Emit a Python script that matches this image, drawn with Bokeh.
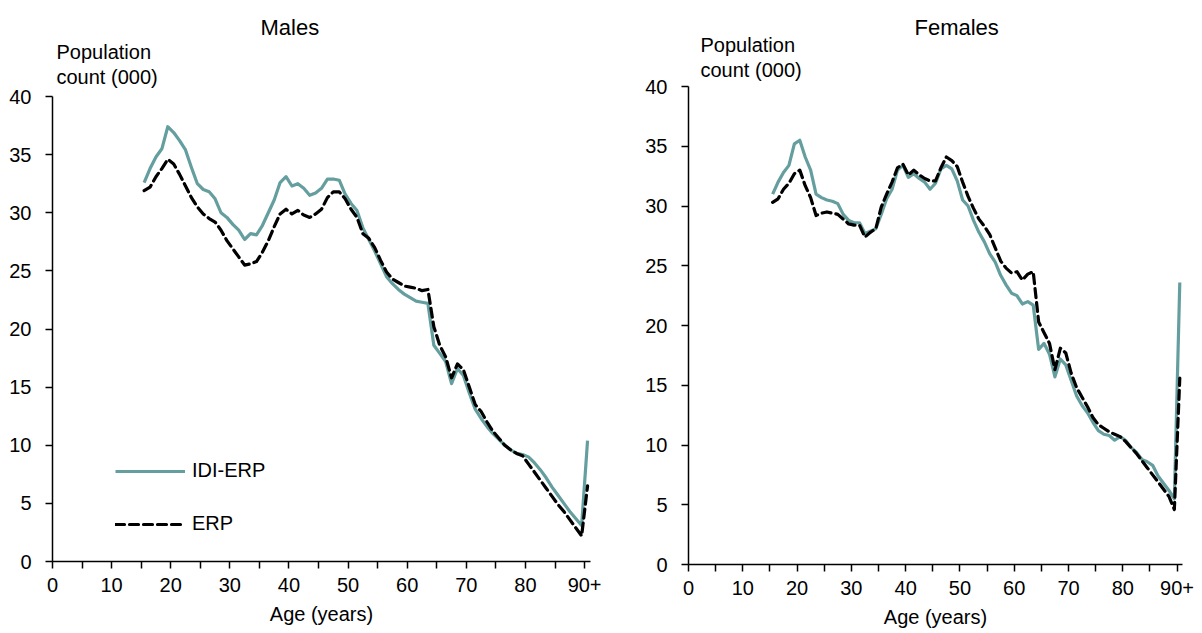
from bokeh.plotting import figure
from bokeh.layouts import row, column
from bokeh.models import Range1d, FixedTicker, Legend, LegendItem, Title
from bokeh.embed import file_html
from bokeh.resources import INLINE

# ---------------- data ----------------
ages = list(range(15, 91))  # 90 = "90+"
x_ticks = [0, 10, 20, 30, 40, 50, 60, 70, 80, 90]
x_tick_labels = ["0", "10", "20", "30", "40", "50", "60", "70", "80", "90+"]
y_ticks = [0, 5, 10, 15, 20, 25, 30, 35, 40]

males_idi = [32.6, 33.8, 34.8, 35.5, 37.4, 36.9, 36.2, 35.4, 33.9, 32.5,
             32.0, 31.8, 31.2, 30.0, 29.6, 29.0, 28.5, 27.7, 28.2, 28.1,
             28.9, 30.0, 31.1, 32.6, 33.1, 32.3, 32.5, 32.1, 31.5, 31.7,
             32.1, 32.9, 32.9, 32.8, 31.6, 30.8, 30.2, 28.7, 27.7, 26.7,
             25.6, 24.5, 23.9, 23.4, 23.0, 22.7, 22.4, 22.3, 22.2, 18.6,
             17.9, 17.2, 15.3, 16.6, 16.0, 14.5, 13.1, 12.3, 11.6, 11.0,
             10.5, 10.0, 9.6, 9.3, 9.2, 9.0, 8.5, 7.9, 7.2, 6.4,
             5.7, 5.0, 4.3, 3.7, 3.1, 10.4]
males_erp = [31.9, 32.2, 33.1, 33.8, 34.6, 34.2, 33.3, 32.3, 31.3, 30.5,
             29.9, 29.5, 29.2, 28.5, 27.6, 26.9, 26.2, 25.5, 25.6, 25.8,
             26.6, 27.6, 28.8, 29.9, 30.3, 29.9, 30.2, 29.8, 29.6, 29.9,
             30.3, 31.3, 31.8, 31.8, 31.2, 30.3, 29.6, 28.2, 27.8, 27.0,
             25.9, 24.9, 24.3, 24.0, 23.7, 23.6, 23.5, 23.3, 23.4, 20.2,
             18.6, 17.6, 15.8, 17.0, 16.5, 15.0, 13.5, 12.9, 12.0, 11.2,
             10.6, 10.0, 9.6, 9.3, 9.1, 8.4, 7.7, 7.0, 6.3, 5.6,
             4.9, 4.3, 3.6, 2.9, 2.2, 6.5]
females_idi = [31.0, 32.0, 32.8, 33.4, 35.2, 35.5, 34.1, 33.0, 31.0, 30.7,
               30.5, 30.4, 30.2, 29.3, 28.8, 28.6, 28.6, 27.7, 27.9, 28.1,
               29.3, 30.6, 31.4, 33.0, 33.4, 32.4, 32.7, 32.3, 32.0, 31.4,
               31.9, 33.1, 33.4, 33.1, 32.1, 30.5, 30.0, 28.8, 27.8, 27.0,
               26.0, 25.3, 24.2, 23.4, 22.7, 22.5, 21.8, 22.0, 21.7, 18.0,
               18.5, 17.6, 15.7, 17.2, 16.7, 15.4, 14.1, 13.3, 12.7, 11.9,
               11.2, 10.9, 10.8, 10.4, 10.7, 10.4, 9.8, 9.4, 8.8, 8.6,
               8.3, 7.4, 6.8, 6.2, 5.5, 23.6]
females_erp = [30.3, 30.6, 31.4, 31.9, 32.7, 33.0, 31.7, 30.7, 29.2, 29.4,
               29.5, 29.4, 29.3, 28.9, 28.5, 28.4, 28.4, 27.4, 27.8, 28.1,
               29.9, 31.0, 32.0, 33.2, 33.5, 32.6, 33.0, 32.6, 32.3, 32.1,
               32.1, 33.2, 34.1, 33.8, 33.3, 32.0, 30.8, 29.8, 28.9, 28.3,
               27.6, 26.5, 25.4, 24.8, 24.4, 24.5, 23.8, 24.3, 24.5, 20.3,
               19.4, 18.5, 16.3, 18.1, 17.7, 16.0, 14.8, 14.0, 13.2, 12.3,
               11.7, 11.4, 11.1, 10.9, 10.7, 10.3, 9.8, 9.3, 8.7, 8.1,
               7.5, 6.9, 6.3, 5.7, 4.6, 15.6]

# ---------------- style ----------------
FONT = "Liberation Sans"
TEAL = "#659E9E"
FS = "20px"


def make_panel(title, idi, erp, fw, fh, bl, br, bt, bb,
               title_off, title_so, ylab_off, ylab_so, legend=False):
    p = figure(frame_width=fw, frame_height=fh,
               x_range=Range1d(0, 91), y_range=Range1d(0, 40),
               output_backend="svg", toolbar_location=None,
               min_border_left=bl, min_border_right=br,
               min_border_top=bt, min_border_bottom=bb)
    p.outline_line_color = None
    p.grid.visible = False

    xs = [a + 0.5 for a in ages]
    r1 = p.line(xs, idi, line_color=TEAL, line_width=3.2, line_join="round")
    r2 = p.line(xs, erp, line_color="black", line_width=3.2, line_dash="9 5",
                line_cap="round", line_join="round")

    for ax in (p.xaxis[0], p.yaxis[0]):
        ax.axis_line_color = "black"
        ax.axis_line_width = 1.5
        ax.major_tick_line_color = "black"
        ax.major_tick_line_width = 1.5
        ax.major_tick_in = 0
        ax.major_tick_out = 7
        ax.major_label_text_font = FONT
        ax.major_label_text_font_size = FS
        ax.major_label_text_color = "black"
        ax.axis_label_text_font = FONT
        ax.axis_label_text_font_size = FS
        ax.axis_label_text_font_style = "normal"
        ax.axis_label_text_color = "black"

    xa = p.xaxis[0]
    xa.ticker = FixedTicker(ticks=x_ticks,
                            minor_ticks=[t + 5 for t in x_ticks[:-1]])
    xa.major_label_overrides = {t: l for t, l in zip(x_ticks, x_tick_labels)}
    xa.minor_tick_line_color = "black"
    xa.minor_tick_line_width = 1.5
    xa.minor_tick_in = 0
    xa.minor_tick_out = 7
    xa.major_label_standoff = 9
    xa.axis_label = "Age (years)"
    xa.axis_label_standoff = 8

    ya = p.yaxis[0]
    ya.ticker = FixedTicker(ticks=y_ticks)
    ya.minor_tick_line_color = None
    ya.major_label_standoff = 14

    # titles stacked above the frame (first added = closest to frame)
    p.add_layout(Title(text="Population\ncount (000)", align="left", offset=ylab_off,
                       text_font=FONT, text_font_size=FS, text_font_style="normal",
                       text_line_height=1.15,
                       text_color="black", standoff=ylab_so), "above")
    p.add_layout(Title(text=title, align="left", offset=title_off,
                       text_font=FONT, text_font_size="22px", text_font_style="normal",
                       text_color="black", standoff=title_so), "above")

    if legend:
        lg = Legend(items=[LegendItem(label="IDI-ERP", renderers=[r1]),
                           LegendItem(label="ERP", renderers=[r2])],
                    location=(63, 26), orientation="vertical",
                    border_line_color=None, background_fill_alpha=0,
                    padding=0, margin=0, spacing=30,
                    glyph_width=70, glyph_height=20, label_height=20,
                    label_standoff=7, label_text_font=FONT,
                    label_text_font_size=FS, label_text_color="black")
        p.add_layout(lg)
    return p


p1 = make_panel("Males", males_idi, males_erp, 538, 465, 52, 40, 96, 69,
                208, -18, 4, 17, legend=True)
p2 = make_panel("Females", females_idi, females_erp, 494, 478, 58, 14, 86, 66,
                226, -24, 12, 10)

layout = row(p1, column(p2))
open("out.html", "w").write(file_html(layout, INLINE))
